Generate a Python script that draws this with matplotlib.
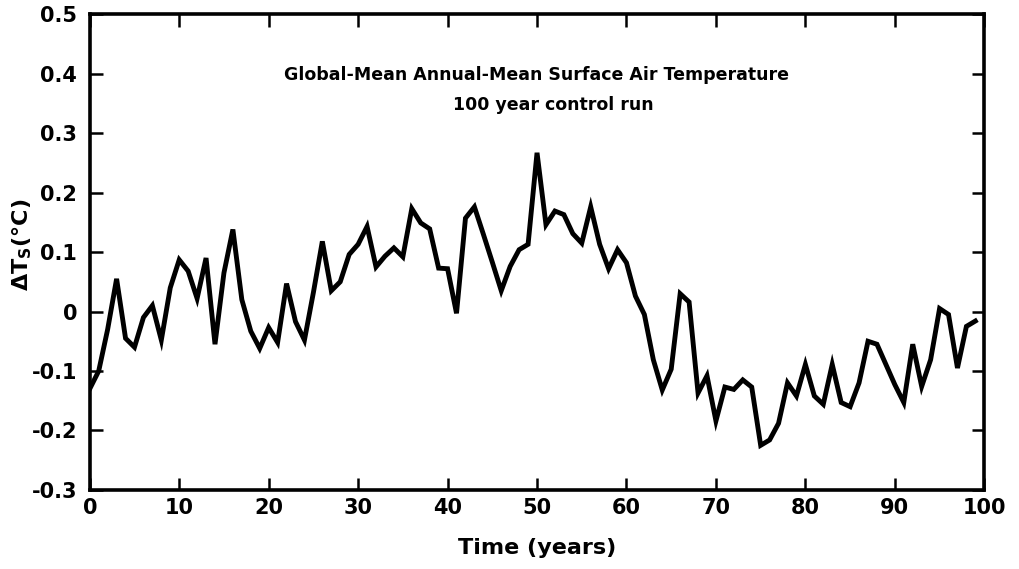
import numpy as np
import matplotlib
matplotlib.use('Agg')
import matplotlib.pyplot as plt

# global-mean annual-mean surface air temperature anomaly, years 0..99
years = np.arange(100)
dts = [-0.13, -0.10, -0.03, 0.055, -0.045, -0.06, -0.01, 0.01, -0.048, 0.04,
       0.087, 0.068, 0.022, 0.09, -0.055, 0.065, 0.138, 0.02, -0.033, -0.062,
       -0.027, -0.052, 0.047, -0.017, -0.048, 0.032, 0.118, 0.035, 0.05, 0.096,
       0.113, 0.143, 0.075, 0.093, 0.107, 0.092, 0.173, 0.149, 0.139, 0.073,
       0.072, -0.003, 0.157, 0.176, 0.13, 0.083, 0.035, 0.076, 0.104, 0.113,
       0.267, 0.146, 0.169, 0.163, 0.131, 0.115, 0.176, 0.113, 0.072, 0.104,
       0.082, 0.026, -0.005, -0.081, -0.132, -0.097, 0.030, 0.016, -0.137, -0.108,
       -0.184, -0.127, -0.131, -0.115, -0.127, -0.225, -0.216, -0.188, -0.12, -0.142,
       -0.089, -0.142, -0.156, -0.089, -0.153, -0.16, -0.12, -0.05, -0.055, -0.089,
       -0.123, -0.153, -0.055, -0.126, -0.081, 0.005, -0.005, -0.095, -0.025, -0.016]

xticks = [0, 10, 20, 30, 40, 50, 60, 70, 80, 90, 100]
yticks = [-0.3, -0.2, -0.1, 0, 0.1, 0.2, 0.3, 0.4, 0.5]
ylabels = ['-0.3', '-0.2', '-0.1', '0', '0.1', '0.2', '0.3', '0.4', '0.5']

fig = plt.figure(figsize=(10.2, 5.69), dpi=100)
ax = fig.add_axes([0.088, 0.139, 0.877, 0.836])

ax.plot(years, dts, color='black', linewidth=3.5, solid_joinstyle='miter')

ax.set_xlim(0, 100)
ax.set_ylim(-0.3, 0.5)
ax.set_xticks(xticks)
ax.set_xticklabels([str(t) for t in xticks], fontsize=15, fontweight='bold')
ax.set_yticks(yticks)
ax.set_yticklabels(ylabels, fontsize=15, fontweight='bold')
ax.tick_params(direction='in', length=9, width=1.8, top=True, right=True)
ax.tick_params(axis='y', pad=9)
ax.tick_params(axis='x', pad=6)

for s in ax.spines.values():
    s.set_linewidth(2.6)

ax.set_xlabel('Time (years)', fontsize=16, fontweight='bold', labelpad=14)
ax.set_ylabel(r'$\mathbf{\Delta T_S}$(°C)', fontsize=16, fontweight='bold', va='center')
ax.yaxis.set_label_coords(-0.076, 0.515)

ax.text(0.499, 0.872, 'Global-Mean Annual-Mean Surface Air Temperature',
        transform=ax.transAxes, ha='center', va='center', fontsize=12.5, fontweight='bold')
ax.text(0.518, 0.809, '100 year control run',
        transform=ax.transAxes, ha='center', va='center', fontsize=12.5, fontweight='bold')

fig.savefig('out.png', dpi=100)
